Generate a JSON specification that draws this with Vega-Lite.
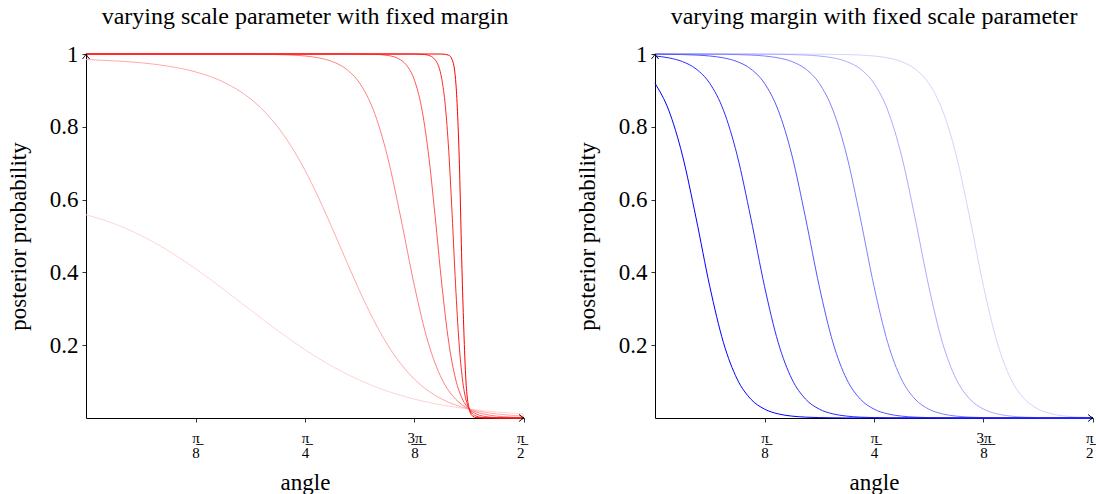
{
  "$schema": "https://vega.github.io/schema/vega-lite/v6.json",
  "background": "white",
  "padding": {"left": 7, "top": 5, "right": 0, "bottom": 0},
  "spacing": 49,
  "resolve": {"scale": {"color": "independent"}},
  "datasets": {
    "left": [
      {"a":0,"p":0.5583,"s":"4"},{"a":0.09817,"p":0.5347,"s":"4"},{"a":0.19635,"p":0.5017,"s":"4"},{"a":0.29452,"p":0.4598,"s":"4"},{"a":0.39270,"p":0.4102,"s":"4"},{"a":0.49087,"p":0.3551,"s":"4"},{"a":0.58905,"p":0.2972,"s":"4"},{"a":0.68722,"p":0.2402,"s":"4"},{"a":0.78540,"p":0.1875,"s":"4"},{"a":0.88357,"p":0.1415,"s":"4"},{"a":0.98175,"p":0.1036,"s":"4"},{"a":1.07992,"p":0.0739,"s":"4"},{"a":1.17810,"p":0.0517,"s":"4"},{"a":1.27627,"p":0.0357,"s":"4"},{"a":1.37445,"p":0.0244,"s":"4"},{"a":1.47262,"p":0.0166,"s":"4"},{"a":1.57080,"p":0.0113,"s":"4"},
      {"a":0,"p":0.9846,"s":"8"},{"a":0.09817,"p":0.9814,"s":"8"},{"a":0.19635,"p":0.9760,"s":"8"},{"a":0.29452,"p":0.9666,"s":"8"},{"a":0.39270,"p":0.9509,"s":"8"},{"a":0.49087,"p":0.9238,"s":"8"},{"a":0.58905,"p":0.8774,"s":"8"},{"a":0.63814,"p":0.8434,"s":"8"},{"a":0.68722,"p":0.8000,"s":"8"},{"a":0.73631,"p":0.7459,"s":"8"},{"a":0.78540,"p":0.6804,"s":"8"},{"a":0.83449,"p":0.6044,"s":"8"},{"a":0.88357,"p":0.5206,"s":"8"},{"a":0.93266,"p":0.4333,"s":"8"},{"a":0.98175,"p":0.3481,"s":"8"},{"a":1.03084,"p":0.2702,"s":"8"},{"a":1.07992,"p":0.2032,"s":"8"},{"a":1.12901,"p":0.1487,"s":"8"},{"a":1.17810,"p":0.1064,"s":"8"},{"a":1.22718,"p":0.0748,"s":"8"},{"a":1.27627,"p":0.0519,"s":"8"},{"a":1.32536,"p":0.0357,"s":"8"},{"a":1.37445,"p":0.0244,"s":"8"},{"a":1.42353,"p":0.0166,"s":"8"},{"a":1.47262,"p":0.0113,"s":"8"},{"a":1.52171,"p":0.0077,"s":"8"},{"a":1.57080,"p":0.0052,"s":"8"},
      {"a":0,"p":1,"s":"16"},{"a":0.19635,"p":1,"s":"16"},{"a":0.39270,"p":0.9999,"s":"16"},{"a":0.49087,"p":0.9998,"s":"16"},{"a":0.58905,"p":0.9995,"s":"16"},{"a":0.63814,"p":0.9991,"s":"16"},{"a":0.68722,"p":0.9984,"s":"16"},{"a":0.73631,"p":0.9971,"s":"16"},{"a":0.78540,"p":0.9945,"s":"16"},{"a":0.83449,"p":0.9894,"s":"16"},{"a":0.88357,"p":0.9792,"s":"16"},{"a":0.93266,"p":0.9590,"s":"16"},{"a":0.98175,"p":0.9194,"s":"16"},{"a":1.03084,"p":0.8457,"s":"16"},{"a":1.07992,"p":0.7223,"s":"16"},{"a":1.12901,"p":0.5495,"s":"16"},{"a":1.17810,"p":0.3618,"s":"16"},{"a":1.22718,"p":0.2073,"s":"16"},{"a":1.27627,"p":0.1071,"s":"16"},{"a":1.32536,"p":0.0520,"s":"16"},{"a":1.37445,"p":0.0244,"s":"16"},{"a":1.42353,"p":0.0113,"s":"16"},{"a":1.47262,"p":0.0052,"s":"16"},{"a":1.52171,"p":0.0024,"s":"16"},{"a":1.57080,"p":0.0011,"s":"16"},
      {"a":0,"p":1,"s":"32"},{"a":0.78540,"p":1,"s":"32"},{"a":0.88357,"p":1,"s":"32"},{"a":0.93266,"p":0.9999,"s":"32"},{"a":0.98175,"p":0.9998,"s":"32"},{"a":1.03084,"p":0.9992,"s":"32"},{"a":1.07992,"p":0.9963,"s":"32"},{"a":1.12901,"p":0.9835,"s":"32"},{"a":1.15355,"p":0.9652,"s":"32"},{"a":1.17810,"p":0.9278,"s":"32"},{"a":1.20264,"p":0.8559,"s":"32"},{"a":1.22718,"p":0.7323,"s":"32"},{"a":1.25173,"p":0.5568,"s":"32"},{"a":1.27627,"p":0.3653,"s":"32"},{"a":1.30082,"p":0.2084,"s":"32"},{"a":1.32536,"p":0.1073,"s":"32"},{"a":1.34990,"p":0.0520,"s":"32"},{"a":1.37445,"p":0.0244,"s":"32"},{"a":1.39899,"p":0.0113,"s":"32"},{"a":1.42353,"p":0.0052,"s":"32"},{"a":1.47262,"p":0.0011,"s":"32"},{"a":1.52171,"p":0.0002,"s":"32"},{"a":1.57080,"p":0,"s":"32"},
      {"a":0,"p":1,"s":"64"},{"a":0.98175,"p":1,"s":"64"},{"a":1.12901,"p":1,"s":"64"},{"a":1.17810,"p":0.9999,"s":"64"},{"a":1.20264,"p":0.9993,"s":"64"},{"a":1.22718,"p":0.9967,"s":"64"},{"a":1.25173,"p":0.9844,"s":"64"},{"a":1.27627,"p":0.9298,"s":"64"},{"a":1.28854,"p":0.8584,"s":"64"},{"a":1.30082,"p":0.7348,"s":"64"},{"a":1.31309,"p":0.5586,"s":"64"},{"a":1.32536,"p":0.3662,"s":"64"},{"a":1.33763,"p":0.2086,"s":"64"},{"a":1.34990,"p":0.1073,"s":"64"},{"a":1.36218,"p":0.0520,"s":"64"},{"a":1.37445,"p":0.0244,"s":"64"},{"a":1.39899,"p":0.0052,"s":"64"},{"a":1.42353,"p":0.0011,"s":"64"},{"a":1.47262,"p":0.0001,"s":"64"},{"a":1.57080,"p":0,"s":"64"},
      {"a":0,"p":1,"s":"128"},{"a":1.17810,"p":1,"s":"128"},{"a":1.22718,"p":1,"s":"128"},{"a":1.27627,"p":0.9999,"s":"128"},{"a":1.30082,"p":0.9968,"s":"128"},{"a":1.31309,"p":0.9846,"s":"128"},{"a":1.32536,"p":0.9303,"s":"128"},{"a":1.33763,"p":0.7354,"s":"128"},{"a":1.34990,"p":0.3664,"s":"128"},{"a":1.36218,"p":0.1074,"s":"128"},{"a":1.37445,"p":0.0244,"s":"128"},{"a":1.38672,"p":0.0052,"s":"128"},{"a":1.39899,"p":0.0011,"s":"128"},{"a":1.42353,"p":0.0001,"s":"128"},{"a":1.57080,"p":0,"s":"128"}
    ],
    "right": [
      {"a":0,"p":1,"m":"1"},{"a":0.19635,"p":1,"m":"1"},{"a":0.39270,"p":0.9999,"m":"1"},{"a":0.49087,"p":0.9998,"m":"1"},{"a":0.58905,"p":0.9995,"m":"1"},{"a":0.63814,"p":0.9991,"m":"1"},{"a":0.68722,"p":0.9984,"m":"1"},{"a":0.73631,"p":0.9971,"m":"1"},{"a":0.78540,"p":0.9945,"m":"1"},{"a":0.83449,"p":0.9894,"m":"1"},{"a":0.88357,"p":0.9792,"m":"1"},{"a":0.93266,"p":0.9590,"m":"1"},{"a":0.98175,"p":0.9194,"m":"1"},{"a":1.03084,"p":0.8457,"m":"1"},{"a":1.07992,"p":0.7223,"m":"1"},{"a":1.12901,"p":0.5495,"m":"1"},{"a":1.17810,"p":0.3618,"m":"1"},{"a":1.22718,"p":0.2073,"m":"1"},{"a":1.27627,"p":0.1071,"m":"1"},{"a":1.32536,"p":0.0520,"m":"1"},{"a":1.37445,"p":0.0244,"m":"1"},{"a":1.42353,"p":0.0113,"m":"1"},{"a":1.47262,"p":0.0052,"m":"1"},{"a":1.52171,"p":0.0024,"m":"1"},{"a":1.57080,"p":0.0011,"m":"1"},
      {"a":0,"p":1,"m":"2"},{"a":0.19635,"p":0.9999,"m":"2"},{"a":0.29452,"p":0.9998,"m":"2"},{"a":0.39270,"p":0.9995,"m":"2"},{"a":0.44179,"p":0.9991,"m":"2"},{"a":0.49087,"p":0.9984,"m":"2"},{"a":0.53996,"p":0.9971,"m":"2"},{"a":0.58905,"p":0.9945,"m":"2"},{"a":0.63814,"p":0.9894,"m":"2"},{"a":0.68722,"p":0.9792,"m":"2"},{"a":0.73631,"p":0.9590,"m":"2"},{"a":0.78540,"p":0.9194,"m":"2"},{"a":0.83449,"p":0.8457,"m":"2"},{"a":0.88357,"p":0.7223,"m":"2"},{"a":0.93266,"p":0.5495,"m":"2"},{"a":0.98175,"p":0.3618,"m":"2"},{"a":1.03084,"p":0.2073,"m":"2"},{"a":1.07992,"p":0.1071,"m":"2"},{"a":1.12901,"p":0.0520,"m":"2"},{"a":1.17810,"p":0.0244,"m":"2"},{"a":1.22718,"p":0.0113,"m":"2"},{"a":1.27627,"p":0.0052,"m":"2"},{"a":1.32536,"p":0.0024,"m":"2"},{"a":1.37445,"p":0.0011,"m":"2"},{"a":1.42353,"p":0.0005,"m":"2"},{"a":1.47262,"p":0.0002,"m":"2"},{"a":1.57080,"p":0.0001,"m":"2"},
      {"a":0,"p":0.9999,"m":"3"},{"a":0.09817,"p":0.9998,"m":"3"},{"a":0.19635,"p":0.9995,"m":"3"},{"a":0.24544,"p":0.9991,"m":"3"},{"a":0.29452,"p":0.9984,"m":"3"},{"a":0.34361,"p":0.9971,"m":"3"},{"a":0.39270,"p":0.9945,"m":"3"},{"a":0.44179,"p":0.9894,"m":"3"},{"a":0.49087,"p":0.9792,"m":"3"},{"a":0.53996,"p":0.9590,"m":"3"},{"a":0.58905,"p":0.9194,"m":"3"},{"a":0.63814,"p":0.8457,"m":"3"},{"a":0.68722,"p":0.7223,"m":"3"},{"a":0.73631,"p":0.5495,"m":"3"},{"a":0.78540,"p":0.3618,"m":"3"},{"a":0.83449,"p":0.2073,"m":"3"},{"a":0.88357,"p":0.1071,"m":"3"},{"a":0.93266,"p":0.0520,"m":"3"},{"a":0.98175,"p":0.0244,"m":"3"},{"a":1.03084,"p":0.0113,"m":"3"},{"a":1.07992,"p":0.0052,"m":"3"},{"a":1.12901,"p":0.0024,"m":"3"},{"a":1.17810,"p":0.0011,"m":"3"},{"a":1.22718,"p":0.0005,"m":"3"},{"a":1.27627,"p":0.0002,"m":"3"},{"a":1.37445,"p":0.0001,"m":"3"},{"a":1.57080,"p":0,"m":"3"},
      {"a":0,"p":0.9995,"m":"4"},{"a":0.04909,"p":0.9991,"m":"4"},{"a":0.09817,"p":0.9984,"m":"4"},{"a":0.14726,"p":0.9971,"m":"4"},{"a":0.19635,"p":0.9945,"m":"4"},{"a":0.24544,"p":0.9894,"m":"4"},{"a":0.29452,"p":0.9792,"m":"4"},{"a":0.34361,"p":0.9590,"m":"4"},{"a":0.39270,"p":0.9194,"m":"4"},{"a":0.44179,"p":0.8457,"m":"4"},{"a":0.49087,"p":0.7223,"m":"4"},{"a":0.53996,"p":0.5495,"m":"4"},{"a":0.58905,"p":0.3618,"m":"4"},{"a":0.63814,"p":0.2073,"m":"4"},{"a":0.68722,"p":0.1071,"m":"4"},{"a":0.73631,"p":0.0520,"m":"4"},{"a":0.78540,"p":0.0244,"m":"4"},{"a":0.83449,"p":0.0113,"m":"4"},{"a":0.88357,"p":0.0052,"m":"4"},{"a":0.93266,"p":0.0024,"m":"4"},{"a":0.98175,"p":0.0011,"m":"4"},{"a":1.03084,"p":0.0005,"m":"4"},{"a":1.07992,"p":0.0002,"m":"4"},{"a":1.17810,"p":0.0001,"m":"4"},{"a":1.37445,"p":0,"m":"4"},{"a":1.57080,"p":0,"m":"4"},
      {"a":0,"p":0.9945,"m":"5"},{"a":0.04909,"p":0.9894,"m":"5"},{"a":0.09817,"p":0.9792,"m":"5"},{"a":0.14726,"p":0.9590,"m":"5"},{"a":0.19635,"p":0.9194,"m":"5"},{"a":0.24544,"p":0.8457,"m":"5"},{"a":0.29452,"p":0.7223,"m":"5"},{"a":0.34361,"p":0.5495,"m":"5"},{"a":0.39270,"p":0.3618,"m":"5"},{"a":0.44179,"p":0.2073,"m":"5"},{"a":0.49087,"p":0.1071,"m":"5"},{"a":0.53996,"p":0.0520,"m":"5"},{"a":0.58905,"p":0.0244,"m":"5"},{"a":0.63814,"p":0.0113,"m":"5"},{"a":0.68722,"p":0.0052,"m":"5"},{"a":0.73631,"p":0.0024,"m":"5"},{"a":0.78540,"p":0.0011,"m":"5"},{"a":0.83449,"p":0.0005,"m":"5"},{"a":0.88357,"p":0.0002,"m":"5"},{"a":0.98175,"p":0.0001,"m":"5"},{"a":1.17810,"p":0,"m":"5"},{"a":1.57080,"p":0,"m":"5"},
      {"a":0,"p":0.9194,"m":"6"},{"a":0.04909,"p":0.8457,"m":"6"},{"a":0.09817,"p":0.7223,"m":"6"},{"a":0.14726,"p":0.5495,"m":"6"},{"a":0.19635,"p":0.3618,"m":"6"},{"a":0.24544,"p":0.2073,"m":"6"},{"a":0.29452,"p":0.1071,"m":"6"},{"a":0.34361,"p":0.0520,"m":"6"},{"a":0.39270,"p":0.0244,"m":"6"},{"a":0.44179,"p":0.0113,"m":"6"},{"a":0.49087,"p":0.0052,"m":"6"},{"a":0.53996,"p":0.0024,"m":"6"},{"a":0.58905,"p":0.0011,"m":"6"},{"a":0.63814,"p":0.0005,"m":"6"},{"a":0.68722,"p":0.0002,"m":"6"},{"a":0.78540,"p":0.0001,"m":"6"},{"a":0.98175,"p":0,"m":"6"},{"a":1.57080,"p":0,"m":"6"}
    ]
  },
  "hconcat": [
    {
      "title": "varying scale parameter with fixed margin",
      "width": 438,
      "height": 364,
      "encoding": {
        "x": {"type": "quantitative", "scale": {"domain": [0, 1.570796], "nice": false, "zero": false},
              "axis": {"title": "angle", "values": [0.392699, 0.785398, 1.178097, 1.570796],
                       "labelExpr": "datum.value < 0.5 ? ['π\u0332', '8'] : datum.value < 0.9 ? ['π\u0332', '4'] : datum.value < 1.3 ? ['3\u0332π\u0332', '8'] : ['π\u0332', '2']"}},
        "y": {"type": "quantitative", "scale": {"domain": [0, 1], "nice": false},
              "axis": {"title": "posterior probability", "values": [0.2, 0.4, 0.6, 0.8, 1], "format": "~g"}}
      },
      "layer": [
        {
          "data": {"name": "left"},
          "mark": {"type": "line", "interpolate": "monotone", "strokeWidth": 1},
          "encoding": {
            "x": {"field": "a"},
            "y": {"field": "p"},
            "color": {"field": "s", "type": "nominal", "legend": null,
                      "scale": {"domain": ["4", "8", "16", "32", "64", "128"], "range": ["#ffd4d4", "#ffaaaa", "#ff8080", "#ff5555", "#ff2a2a", "#ff0000"]}}
          }
        },
        {
          "data": {"values": [{}]},
          "mark": {"type": "point", "shape": "M-1.4,-1Q-0.6,-0.25,0,0Q-0.6,0.25,-1.4,1", "filled": false, "size": 49, "stroke": "black", "strokeWidth": 1, "opacity": 1},
          "encoding": {"x": {"datum": 1.570796}, "y": {"datum": 0}}
        },
        {
          "data": {"values": [{}]},
          "mark": {"type": "point", "shape": "M-1,1.4Q-0.25,0.6,0,0Q0.25,0.6,1,1.4", "filled": false, "size": 49, "stroke": "black", "strokeWidth": 1, "opacity": 1},
          "encoding": {"x": {"datum": 0}, "y": {"datum": 1}}
        }
      ]
    },
    {
      "title": "varying margin with fixed scale parameter",
      "width": 438,
      "height": 364,
      "encoding": {
        "x": {"type": "quantitative", "scale": {"domain": [0, 1.570796], "nice": false, "zero": false},
              "axis": {"title": "angle", "values": [0.392699, 0.785398, 1.178097, 1.570796],
                       "labelExpr": "datum.value < 0.5 ? ['π\u0332', '8'] : datum.value < 0.9 ? ['π\u0332', '4'] : datum.value < 1.3 ? ['3\u0332π\u0332', '8'] : ['π\u0332', '2']"}},
        "y": {"type": "quantitative", "scale": {"domain": [0, 1], "nice": false},
              "axis": {"title": "posterior probability", "values": [0.2, 0.4, 0.6, 0.8, 1], "format": "~g"}}
      },
      "layer": [
        {
          "data": {"name": "right"},
          "mark": {"type": "line", "interpolate": "monotone", "strokeWidth": 1},
          "encoding": {
            "x": {"field": "a"},
            "y": {"field": "p"},
            "color": {"field": "m", "type": "nominal", "legend": null,
                      "scale": {"domain": ["1", "2", "3", "4", "5", "6"], "range": ["#d4d4ff", "#aaaaff", "#8080ff", "#5555ff", "#2a2aff", "#0000ff"]}}
          }
        },
        {
          "data": {"values": [{}]},
          "mark": {"type": "point", "shape": "M-1.4,-1Q-0.6,-0.25,0,0Q-0.6,0.25,-1.4,1", "filled": false, "size": 49, "stroke": "black", "strokeWidth": 1, "opacity": 1},
          "encoding": {"x": {"datum": 1.570796}, "y": {"datum": 0}}
        },
        {
          "data": {"values": [{}]},
          "mark": {"type": "point", "shape": "M-1,1.4Q-0.25,0.6,0,0Q0.25,0.6,1,1.4", "filled": false, "size": 49, "stroke": "black", "strokeWidth": 1, "opacity": 1},
          "encoding": {"x": {"datum": 0}, "y": {"datum": 1}}
        }
      ]
    }
  ],
  "config": {
    "font": "Liberation Serif",
    "view": {"stroke": null},
    "title": {"font": "Liberation Serif", "fontSize": 24, "fontWeight": "normal", "color": "black", "offset": 14, "anchor": "middle"},
    "axis": {"grid": false, "domainColor": "black", "domainWidth": 1, "tickColor": "#333", "tickWidth": 1, "tickSize": 4,
             "labelColor": "black", "labelFont": "Liberation Serif", "titleFont": "Liberation Serif", "titleColor": "black",
             "titleFontWeight": "normal", "titleFontSize": 23},
    "axisX": {"labelFontSize": 15, "labelLineHeight": 15, "labelPadding": 8, "titlePadding": 11, "labelAngle": 0},
    "axisY": {"labelFontSize": 23, "labelPadding": 4, "titlePadding": 19}
  }
}
